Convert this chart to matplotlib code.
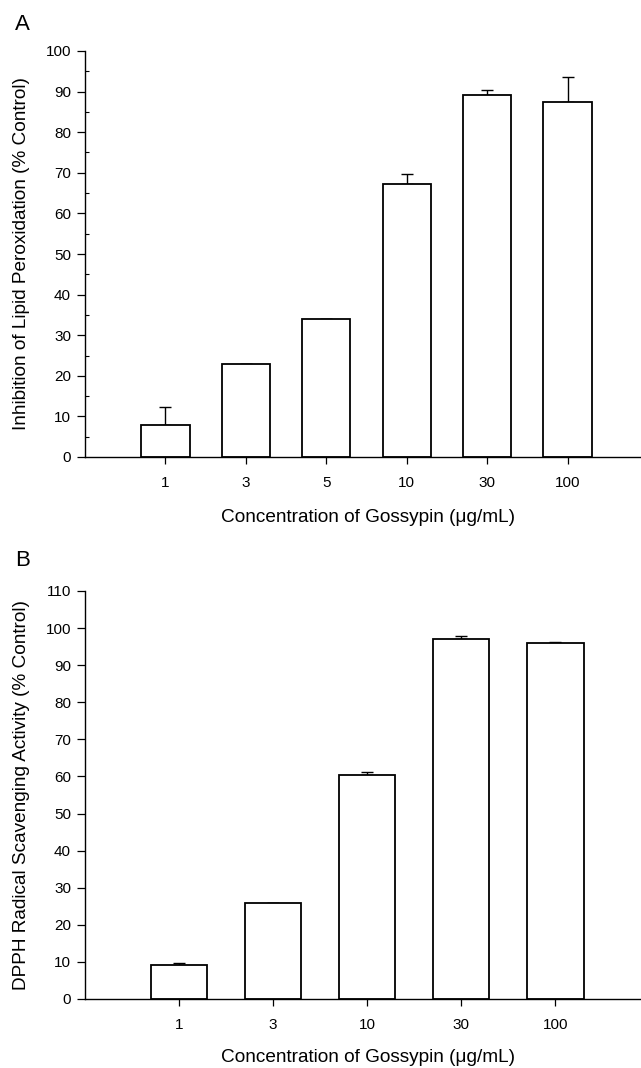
import matplotlib
matplotlib.use("Agg")
import matplotlib.pyplot as plt
from matplotlib.ticker import MultipleLocator

plt.rcParams['font.family'] = ['Liberation Sans', 'DejaVu Sans']

# Panel A data
cats_a = ['1', '3', '5', '10', '30', '100']
vals_a = [8.0, 23.0, 34.0, 67.3, 89.2, 87.5]
errs_a = [4.2, 0.0, 0.0, 2.4, 1.1, 6.2]

# Panel B data
cats_b = ['1', '3', '10', '30', '100']
vals_b = [9.2, 25.9, 60.4, 97.0, 95.9]
errs_b = [0.4, 0.0, 0.9, 1.0, 0.3]

xlabel = 'Concentration of Gossypin (\u03bcg/mL)'
ylabel_a = 'Inhibition of Lipid Peroxidation (% Control)'
ylabel_b = 'DPPH Radical Scavenging Activity (% Control)'

fig = plt.figure(figsize=(6.41, 10.68), dpi=100)

def draw(ax, cats, vals, errs, ymax, minor, xright):
    x = list(range(len(cats)))
    ax.bar(x, vals, width=0.6, color='white', edgecolor='black', linewidth=1.3, zorder=2)
    ax.errorbar(x, vals, yerr=[[0]*len(errs), errs], fmt='none', ecolor='black',
                elinewidth=1.0, capsize=4, capthick=1.0, zorder=1)
    ax.set_xlim(-1, xright)
    ax.set_ylim(0, ymax)
    ax.set_xticks(x)
    ax.set_xticklabels(cats)
    ax.yaxis.set_major_locator(MultipleLocator(10))
    if minor:
        ax.yaxis.set_minor_locator(MultipleLocator(5))
        ax.tick_params(axis='y', which='minor', direction='in', length=3, width=0.8)
    for s in ['top', 'right']:
        ax.spines[s].set_visible(False)
    for s in ['left', 'bottom']:
        ax.spines[s].set_linewidth(1.0)
    ax.tick_params(axis='both', which='major', direction='out', length=6, width=0.9,
                   labelsize=11, pad=4)
    ax.tick_params(axis='x', which='major', length=5, pad=9)

# Panel A
ax1 = fig.add_axes([85/641, 1 - 457/1068, 555/641, 406/1068])
draw(ax1, cats_a, vals_a, errs_a, 100, True, 5.9)
ax1.set_xlabel(xlabel, fontsize=13.7, va='center')
ax1.xaxis.set_label_coords(0.51, -(518 - 457) / 406)
ax1.set_ylabel(ylabel_a, fontsize=13.7, va='center')
ax1.yaxis.set_label_coords((22 - 85) / 555, 0.5)

# Panel B
ax2 = fig.add_axes([85/641, 1 - 999/1068, 555/641, 408/1068])
draw(ax2, cats_b, vals_b, errs_b, 110, False, 4.9)
ax2.set_xlabel(xlabel, fontsize=13.7, va='center')
ax2.xaxis.set_label_coords(0.51, -(1058 - 999) / 408)
ax2.set_ylabel(ylabel_b, fontsize=13.7, va='center')
ax2.yaxis.set_label_coords((22 - 85) / 555, 0.5)

fig.text(22/641, 1 - 25/1068, 'A', fontsize=16, ha='center', va='center')
fig.text(23/641, 1 - 561/1068, 'B', fontsize=16, ha='center', va='center')

fig.savefig('out.png', dpi=100)
